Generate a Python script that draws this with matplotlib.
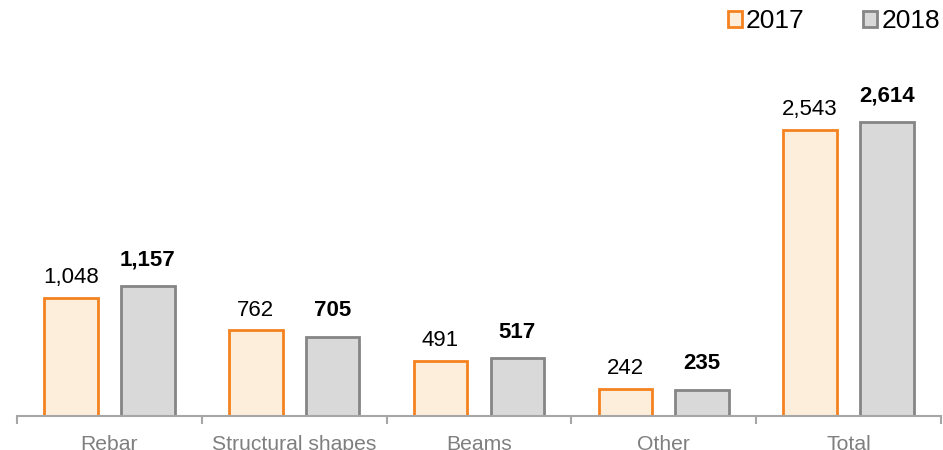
import matplotlib
matplotlib.use("Agg")
import matplotlib.pyplot as plt
import numpy as np

plt.rcParams['font.family'] = ['Liberation Sans', 'DejaVu Sans']

categories = ["Rebar", "Structural shapes", "Beams", "Other", "Total"]
values_2017 = [1048, 762, 491, 242, 2543]
values_2018 = [1157, 705, 517, 235, 2614]
series_names = ["2017", "2018"]

fig = plt.figure(figsize=(9.43, 4.5), dpi=100)
W, H = 943, 450
left, right, bottom = 17, 941, 416
top = 40
ax = fig.add_axes([left / W, 1 - bottom / H, (right - left) / W, (bottom - top) / H])

x = np.arange(len(categories))
bw = 0.29
off = 0.208
ax.bar(x - off, values_2017, bw, facecolor="#fdeedb", edgecolor="#f58220", linewidth=2, label=series_names[0], zorder=2)
ax.bar(x + off, values_2018, bw, facecolor="#d9d9d9", edgecolor="#858585", linewidth=2, label=series_names[1], zorder=2)

for xi, v in zip(x, values_2017):
    ax.annotate(f"{v:,}", (xi - off, v), xytext=(0, 7), textcoords="offset points",
                ha="center", va="bottom", fontsize=16, color="#000000")
for xi, v in zip(x, values_2018):
    ax.annotate(f"{v:,}", (xi + off, v), xytext=(0, 11), textcoords="offset points",
                ha="center", va="bottom", fontsize=16, color="#000000", fontweight="bold")

ax.set_xlim(-0.5, len(categories) - 0.5)
ymax = (bottom - top) / 0.1125
ax.set_ylim(0, ymax)
ax.set_yticks([])
for s in ["top", "right", "left"]:
    ax.spines[s].set_visible(False)
ax.spines["bottom"].set_color("#a6a6a6")
ax.spines["bottom"].set_linewidth(1.5)

ax.set_xticks(np.arange(len(categories) + 1) - 0.5, minor=False)
ax.set_xticklabels([])
ax.tick_params(axis="x", which="major", length=6, width=1.5, color="#a6a6a6")
ax.set_xticks(x, minor=True)
ax.set_xticklabels(categories, minor=True)
ax.tick_params(axis="x", which="minor", length=0, labelsize=15.2, labelcolor="#7f7f7f", pad=14)

leg = fig.legend(loc="upper right", bbox_to_anchor=(940 / W, 1 - 9 / H), ncol=2, frameon=False,
                 fontsize=19, handlelength=0.55, handleheight=0.55, handletextpad=0.15,
                 columnspacing=2.2, borderpad=0, borderaxespad=0)

fig.savefig("out.png", dpi=100)
